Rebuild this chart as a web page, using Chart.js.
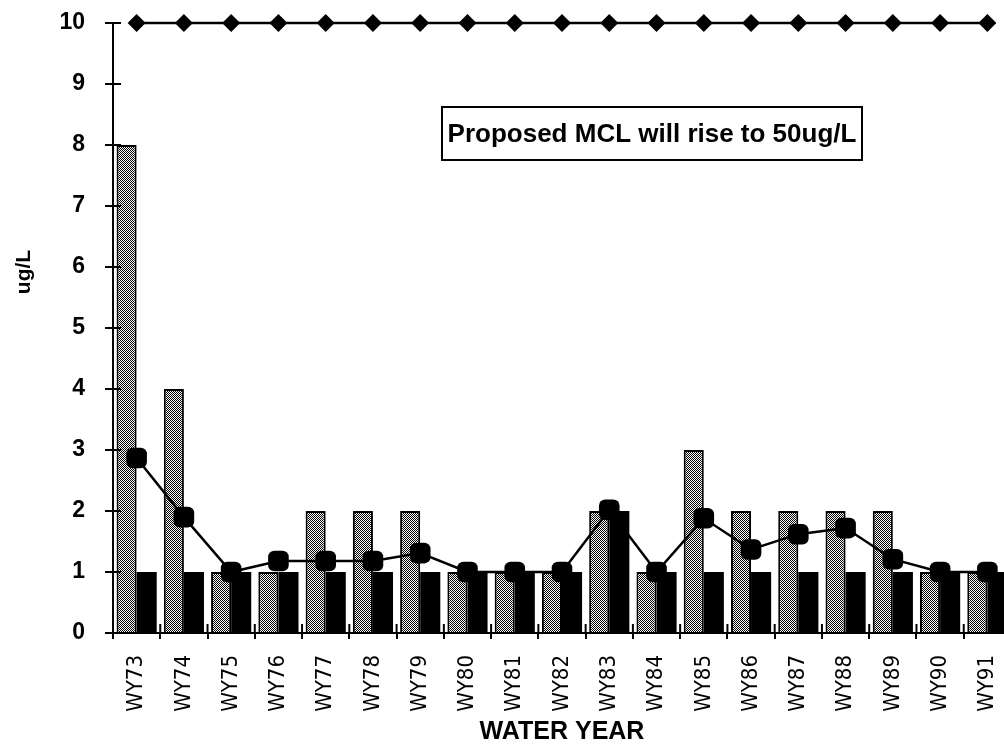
<!DOCTYPE html>
<html>
<head>
<meta charset="utf-8">
<script src="https://cdn.jsdelivr.net/npm/chart.js@4"></script>
<style>
  html, body { margin: 0; padding: 0; background: #fff; overflow: hidden; }
  #wrap { width: 1012px; height: 749px; }
</style>
</head>
<body>
<div id="wrap"><canvas id="c" width="1012" height="749"></canvas></div>
<script>
// ---- data ----
const categories = ['WY73','WY74','WY75','WY76','WY77','WY78','WY79','WY80','WY81','WY82','WY83','WY84','WY85','WY86','WY87','WY88','WY89','WY90','WY91'];
const maxValues  = [8, 4, 1, 1, 2, 2, 2, 1, 1, 1, 2, 1, 3, 2, 2, 2, 2, 1, 1];
const minValues  = [1, 1, 1, 1, 1, 1, 1, 1, 1, 1, 2, 1, 1, 1, 1, 1, 1, 1, 1];
const meanValues = [2.87, 1.9, 1.0, 1.18, 1.18, 1.18, 1.31, 1.0, 1.0, 1.0, 2.02, 1.0, 1.88, 1.37, 1.62, 1.72, 1.21, 1.0, 1.0];
const mclValues  = [10, 10, 10, 10, 10, 10, 10, 10, 10, 10, 10, 10, 10, 10, 10, 10, 10, 10, 10];
const yTicks     = [0, 1, 2, 3, 4, 5, 6, 7, 8, 9, 10];
const yTitle = 'ug/L';
const xTitle = 'WATER YEAR';
const noteText = 'Proposed MCL will rise to 50ug/L';

// stipple pattern for the gray bars
function stipple() {
  const p = document.createElement('canvas');
  p.width = 4; p.height = 4;
  const g = p.getContext('2d');
  g.fillStyle = '#ffffff'; g.fillRect(0, 0, 4, 4);
  g.fillStyle = '#000000';
  for (let y = 0; y < 4; y++) for (let x = 0; x < 4; x++) {
    if ((x + y) % 2 === 0) g.fillRect(x, y, 1, 1);
  }
  return g.createPattern(p, 'repeat');
}
const ctx = document.getElementById('c').getContext('2d');
const pattern = stipple();

const tickFont = { family: "'Liberation Sans', Arial, sans-serif", size: 23, weight: 'bold' };
const xTickFont = { family: "'Liberation Sans Narrow', 'DejaVu Sans Condensed', sans-serif", size: 22 };

const extras = {
  id: 'extras',
  afterDatasetsDraw(chart) {
    const c = chart.ctx, a = chart.chartArea;
    const xs = chart.scales.x, ys = chart.scales.y;
    c.save();
    c.strokeStyle = '#000'; c.lineWidth = 2;
    // inner y ticks
    yTicks.forEach(v => {
      const y = ys.getPixelForValue(v);
      c.beginPath(); c.moveTo(a.left, y); c.lineTo(a.left + 8, y); c.stroke();
    });
    // inner x ticks at category boundaries
    for (let i = 1; i < categories.length; i++) {
      const x = (xs.getPixelForValue(i - 1) + xs.getPixelForValue(i)) / 2;
      c.beginPath(); c.moveTo(x, a.bottom); c.lineTo(x, a.bottom - 9); c.stroke();
    }
    // note box
    const bx = 442, by = 107, bw = 420, bh = 53;
    c.fillStyle = '#fff';
    c.fillRect(bx, by, bw, bh);
    c.strokeRect(bx, by, bw, bh);
    c.fillStyle = '#000';
    c.font = "bold 26px 'Liberation Sans', Arial, sans-serif";
    c.textAlign = 'center'; c.textBaseline = 'middle';
    c.fillText(noteText, bx + bw / 2, by + bh / 2 + 1);
    // y title
    c.translate(24, 272);
    c.rotate(-Math.PI / 2);
    c.font = "bold 21px 'Liberation Sans', Arial, sans-serif";
    c.fillText(yTitle, 0, 0);
    c.restore();
  }
};

new Chart(ctx, {
  data: {
    labels: categories,
    datasets: [
      { type: 'line', label: 'MCL', data: mclValues, order: 0,
        borderColor: '#000', borderWidth: 2.5, backgroundColor: '#000',
        pointStyle: 'rectRot', pointRadius: 9, pointHoverRadius: 9, pointBorderWidth: 0,
        tension: 0, clip: false },
      { type: 'line', label: 'Mean', data: meanValues, order: 1,
        borderColor: '#000', borderWidth: 2.5, backgroundColor: '#000',
        pointStyle: 'rectRounded', pointRadius: 12, pointHoverRadius: 12, pointBorderWidth: 0,
        tension: 0 },
      { type: 'bar', label: 'Maximum', data: maxValues, order: 2,
        backgroundColor: pattern, borderColor: '#000', borderWidth: 2,
        barPercentage: 1.0, categoryPercentage: 0.85 },
      { type: 'bar', label: 'Minimum', data: minValues, order: 2,
        backgroundColor: '#000', borderColor: '#000', borderWidth: 0,
        barPercentage: 1.0, categoryPercentage: 0.85 }
    ]
  },
  options: {
    responsive: false,
    animation: false,
    devicePixelRatio: 1,
    layout: { autoPadding: false, padding: { top: 23, right: 1, left: 0, bottom: 0 } },
    plugins: { legend: { display: false }, tooltip: { enabled: false } },
    scales: {
      x: {
        type: 'category',
        offset: true,
        grid: { display: true, drawOnChartArea: false, offset: true, tickLength: 6, color: '#000', lineWidth: 2 },
        border: { display: true, color: '#000', width: 2 },
        ticks: { font: xTickFont, color: '#000', minRotation: 90, maxRotation: 90, autoSkip: false, padding: 16 },
        title: { display: true, text: xTitle, color: '#000',
                 font: { family: "'Liberation Sans', Arial, sans-serif", size: 25, weight: 'bold' },
                 padding: { top: 0, bottom: 2 } },
        afterFit(s) { s.height = 116; s.paddingLeft = 0; s.paddingRight = 0; }
      },
      y: {
        min: 0, max: 10,
        afterBuildTicks(s) { s.ticks = yTicks.map(v => ({ value: v })); },
        grid: { display: true, drawOnChartArea: false, tickLength: 8, color: '#000', lineWidth: 2 },
        border: { display: true, color: '#000', width: 2 },
        ticks: { font: tickFont, color: '#000', padding: 20 },
        afterFit(s) { s.width = 113; s.paddingTop = 0; s.paddingBottom = 0; }
      }
    }
  },
  plugins: [extras]
});
</script>
</body>
</html>
